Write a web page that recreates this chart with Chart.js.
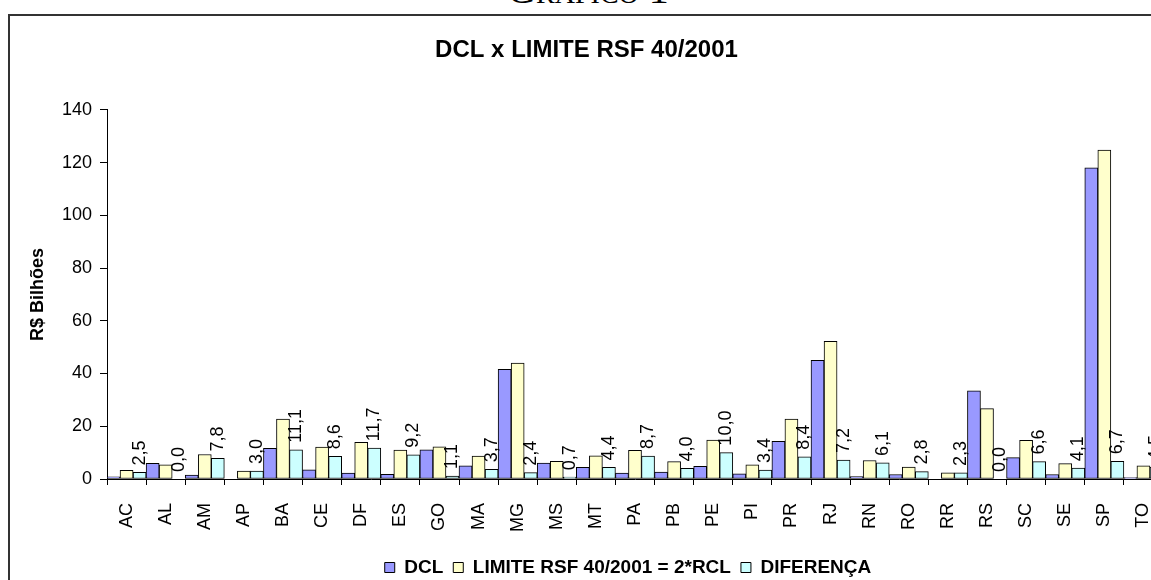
<!DOCTYPE html>
<html lang="pt-BR">
<head>
<meta charset="utf-8">
<title>Gráfico 1 – DCL x Limite RSF 40/2001</title>
<script src="https://cdn.jsdelivr.net/npm/chart.js@4/dist/chart.umd.min.js"></script>
<style>
  html, body { margin: 0; padding: 0; background: #fff; }
  body { width: 1151px; height: 580px; overflow: hidden; position: relative; }
  #heading {
    position: absolute; left: 0; width: 1176px; top: -30px;
    text-align: center; line-height: 1;
    font-family: "Liberation Serif", "Times New Roman", serif;
    font-variant: small-caps; font-size: 40px; color: #000;
  }
  #frame {
    position: absolute; left: 8px; top: 14px; width: 1200px; height: 620px;
    border-left: 2px solid #333; border-top: 2px solid #333;
  }
  #chartBox { position: absolute; left: 10px; top: 16px; width: 1156px; height: 581px; }
</style>
</head>
<body>
<div id="heading">Gráfico 1</div>
<div id="frame"></div>
<div id="chartBox"><canvas id="chart" width="1156" height="581"></canvas></div>
<script>
// Unidades da federação
const estados = ['AC','AL','AM','AP','BA','CE','DF','ES','GO','MA','MG','MS','MT','PA',
                 'PB','PE','PI','PR','RJ','RN','RO','RR','RS','SC','SE','SP','TO'];

// Dívida consolidada líquida (R$ bilhões)
const dcl = [0.8, 5.9, 1.5, 0, 11.6, 3.5, 2.2, 1.8, 11.1, 5.0, 41.6, 6.0, 4.4, 2.2,
             2.6, 4.8, 2.0, 14.3, 45.0, 0.9, 1.7, 0, 33.4, 8.1, 1.7, 118.0, 0.5];

// Limite da Resolução do Senado 40/2001 = 2 x RCL (R$ bilhões)
const limite = [3.3, 5.4, 9.3, 3.0, 22.7, 12.1, 13.9, 11.0, 12.2, 8.7, 44.0, 6.7, 8.8, 10.9,
                6.6, 14.8, 5.4, 22.7, 52.2, 7.0, 4.5, 2.3, 26.7, 14.7, 5.8, 124.7, 5.0];

// Margem disponível até o limite (R$ bilhões)
const diferenca = [2.5, 0.0, 7.8, 3.0, 11.1, 8.6, 11.7, 9.2, 1.1, 3.7, 2.4, 0.7, 4.4, 8.7,
                   4.0, 10.0, 3.4, 8.4, 7.2, 6.1, 2.8, 2.3, 0.0, 6.6, 4.1, 6.7, 4.5];

// Marcas do eixo vertical
const yTicks = [0, 20, 40, 60, 80, 100, 120, 140];

const FONT = '"Liberation Sans", Arial, Helvetica, sans-serif';

// Rótulos verticais com o valor da diferença acima de cada barra
const rotulosDiferenca = {
  id: 'rotulosDiferenca',
  afterDatasetsDraw(chart) {
    const meta = chart.getDatasetMeta(2);
    const ctx = chart.ctx;
    ctx.save();
    ctx.font = '18px ' + FONT;
    ctx.fillStyle = '#000';
    ctx.textAlign = 'left';
    ctx.textBaseline = 'middle';
    meta.data.forEach((bar, i) => {
      const txt = diferenca[i].toFixed(1).replace('.', ',');
      ctx.save();
      ctx.translate(bar.x, bar.y - 7);
      ctx.rotate(-Math.PI / 2);
      ctx.fillText(txt, 0, 0);
      ctx.restore();
    });
    ctx.restore();
  }
};

// Desloca a legenda um pouco para a esquerda
const ajusteLegenda = {
  id: 'ajusteLegenda',
  afterLayout(chart) {
    if (chart.legend) {
      chart.legend.left -= 7;
      chart.legend.right -= 7;
    }
  }
};

const barBase = { borderColor: '#000', borderWidth: 1, borderSkipped: false,
                  categoryPercentage: 1.0, barPercentage: 1.0 };

new Chart(document.getElementById('chart'), {
  type: 'bar',
  data: {
    labels: estados,
    datasets: [
      Object.assign({ label: 'DCL', data: dcl, backgroundColor: '#9999FF' }, barBase),
      Object.assign({ label: 'LIMITE RSF 40/2001 = 2*RCL', data: limite, backgroundColor: '#FFFFCC' }, barBase),
      Object.assign({ label: 'DIFERENÇA', data: diferenca, backgroundColor: '#CCFFFF' }, barBase)
    ]
  },
  plugins: [rotulosDiferenca, ajusteLegenda],
  options: {
    responsive: false,
    devicePixelRatio: 1,
    animation: false,
    layout: { padding: { left: 0, right: 3, top: 0, bottom: 10 } },
    plugins: {
      title: {
        display: true,
        text: 'DCL x LIMITE RSF 40/2001',
        color: '#000',
        font: { family: FONT, size: 24, weight: 'bold' },
        padding: { top: 20, bottom: 45 }
      },
      legend: {
        position: 'bottom',
        fullSize: false,
        labels: {
          color: '#000',
          font: { family: FONT, size: 19, weight: 'bold' },
          boxWidth: 10, boxHeight: 10, padding: 10
        }
      },
      tooltip: { enabled: false }
    },
    scales: {
      x: {
        afterFit(scale) {
          scale.height = 69;
          scale.paddingLeft = 0;
          scale.paddingRight = 0;
        },
        border: { display: true, color: '#000', width: 1 },
        grid: { offset: true, drawOnChartArea: false, drawTicks: true, tickLength: 6, color: '#000' },
        ticks: {
          color: '#000', font: { family: FONT, size: 18 },
          minRotation: 90, maxRotation: 90, autoSkip: false, padding: 18
        }
      },
      y: {
        min: 0, max: 140,
        afterFit(scale) { scale.width = 97; },
        afterBuildTicks(scale) { scale.ticks = yTicks.map(v => ({ value: v })); },
        border: { display: true, color: '#000', width: 1 },
        grid: { drawOnChartArea: false, drawTicks: true, tickLength: 7, color: '#000' },
        ticks: { color: '#000', font: { family: FONT, size: 18 }, padding: 8 },
        title: {
          display: true, text: 'R$ Bilhões', color: '#000',
          font: { family: FONT, size: 18, weight: 'bold' },
          padding: { top: 17, bottom: 0 }
        }
      }
    }
  }
});
</script>
</body>
</html>
